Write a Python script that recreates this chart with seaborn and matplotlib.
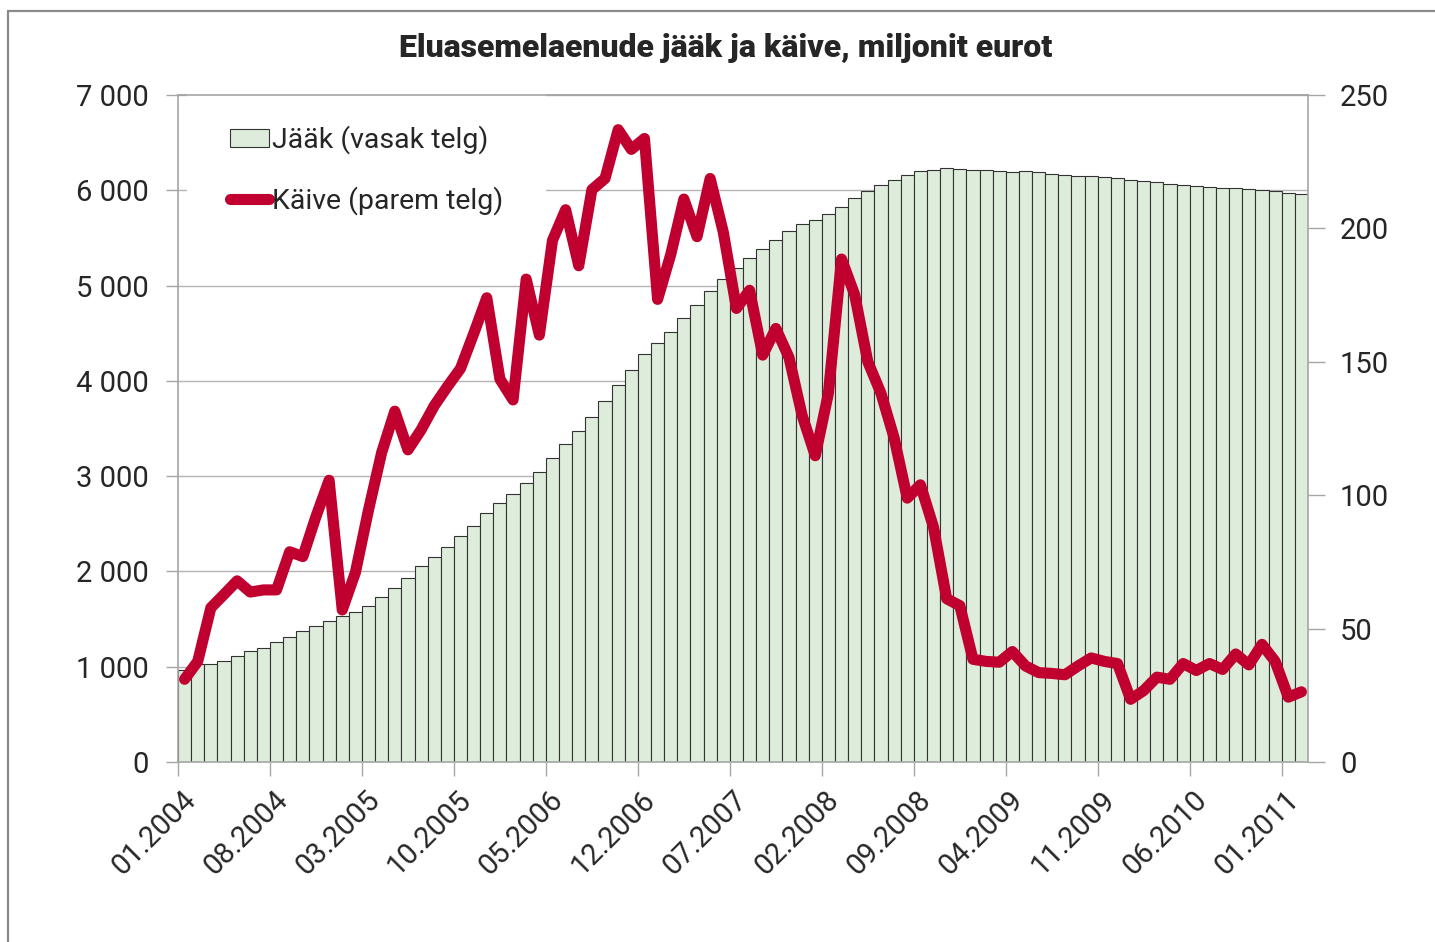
import matplotlib
matplotlib.use('Agg')

import matplotlib.pyplot as plt
from matplotlib.lines import Line2D
from matplotlib.patches import Patch
from matplotlib.ticker import FuncFormatter, MultipleLocator
import seaborn as sns
import pandas as pd
import numpy as np

# kuud 01.2004 ... 02.2011
MONTHS = pd.date_range('2004-01-01', periods=86, freq='MS').strftime('%m.%Y').tolist()

# Jääk, miljonit eurot (vasak telg)
JAAK = [970, 1028, 1030, 1065, 1115, 1162, 1200, 1256, 1313, 1374,
        1426, 1482, 1529, 1576, 1633, 1732, 1831, 1934, 2056, 2155,
        2259, 2367, 2480, 2612, 2715, 2814, 2932, 3045, 3186, 3341,
        3473, 3624, 3788, 3958, 4118, 4282, 4395, 4513, 4659, 4791,
        4941, 5073, 5186, 5285, 5379, 5482, 5571, 5642, 5689, 5755,
        5826, 5915, 5995, 6056, 6108, 6160, 6207, 6216, 6231, 6221,
        6212, 6212, 6202, 6193, 6198, 6188, 6174, 6165, 6155, 6151,
        6136, 6127, 6113, 6099, 6085, 6071, 6056, 6047, 6038, 6028,
        6028, 6014, 6005, 5991, 5976, 5958]

# Käive, miljonit eurot (parem telg)
KAIVE = [31.0, 37.7, 57.8, 62.8, 67.9, 63.7, 64.5, 64.5, 78.8, 77.0,
         92.0, 105.6, 57.0, 71.0, 94.5, 116.0, 131.5, 117.0, 124.5, 133.5,
         140.7, 147.5, 160.5, 174.0, 143.5, 135.7, 181.0, 160.0, 195.5, 207.0,
         186.0, 214.5, 218.7, 237.0, 229.6, 233.7, 173.4, 190.2, 211.0, 196.9,
         218.7, 198.6, 170.0, 176.8, 152.5, 162.5, 151.6, 129.9, 114.8, 138.2,
         188.5, 175.1, 150.0, 138.2, 121.5, 98.9, 103.9, 88.0, 61.2, 58.6,
         38.5, 37.7, 37.4, 41.4, 36.0, 33.5, 33.2, 32.7, 36.0, 39.0,
         37.7, 36.9, 23.5, 26.8, 31.8, 31.0, 36.9, 34.3, 36.9, 34.7,
         40.5, 36.4, 44.1, 37.7, 24.3, 26.3]

GREEN = '#deeddb'
EDGE = '#333333'
RED = '#c0002e'
GRID = '#b4b4b4'
AXIS = '#a6a6a6'

sns.set_theme(style='white')
plt.rcParams['font.family'] = ['Roboto', 'DejaVu Sans']

df = pd.DataFrame({'kuu': MONTHS, 'jaak': JAAK, 'kaive': KAIVE})
df['pos'] = np.arange(len(df))

fig = plt.figure(figsize=(14.35, 9.42), dpi=100)
ax = fig.add_axes([178 / 1435, 1 - 762 / 942, 1130 / 1435, 667 / 942])

sns.barplot(data=df, x='kuu', y='jaak', color=GREEN, saturation=1,
            edgecolor=EDGE, linewidth=0.8, width=1.0, ax=ax)
ax.set_xlim(-0.5, len(df) - 0.5)
ax.set_ylim(0, 7000)
ax.yaxis.set_major_locator(MultipleLocator(1000))
ax.yaxis.set_major_formatter(FuncFormatter(lambda v, p: f'{int(v):,}'.replace(',', ' ')))
ax.set_axisbelow(True)
ax.yaxis.grid(True, color=GRID, linewidth=1.0)
ax.xaxis.grid(False)
ax.set_xlabel('')
ax.set_ylabel('')

ax2 = ax.twinx()
sns.lineplot(data=df, x='pos', y='kaive', color=RED, linewidth=8,
             solid_capstyle='round', solid_joinstyle='round', ax=ax2)
ax2.set_ylim(0, 250)
ax2.yaxis.set_major_locator(MultipleLocator(50))
ax2.set_xlabel('')
ax2.set_ylabel('')
ax2.set_xlim(-0.5, len(df) - 0.5)

# x-telg: kriipsud kategooriate piiril, sildid veidi paremal
step = 7
major = np.arange(0, len(df), step)
ax.set_xticks(major - 0.5)
ax.set_xticklabels([])
ax.set_xticks(major + 0.5, minor=True)
ax.set_xticklabels([MONTHS[i] for i in major], minor=True, rotation=45,
                   ha='right', va='center', rotation_mode='anchor', fontsize=21)
ax.tick_params(axis='x', which='major', length=10, width=1, color=AXIS, direction='out', bottom=True)
ax.tick_params(axis='x', which='minor', length=0, pad=24, bottom=True)
ax.tick_params(axis='y', length=9, width=1, color=AXIS, direction='out', left=True,
               labelsize=21, pad=12)
ax2.tick_params(axis='y', length=12, width=1, color=AXIS, direction='out', right=True,
                labelsize=21, pad=11)

for name in ['left', 'bottom', 'top']:
    ax.spines[name].set_color(AXIS)
    ax.spines[name].set_linewidth(1.2)
ax.spines['right'].set_visible(False)
for name in ['left', 'bottom']:
    ax2.spines[name].set_visible(False)
for name in ['right', 'top']:
    ax2.spines[name].set_color(AXIS)
    ax2.spines[name].set_linewidth(1.2)

handles = [Patch(facecolor=GREEN, edgecolor=EDGE, linewidth=0.8),
           Line2D([], [], color=RED, linewidth=8, solid_capstyle='round')]
leg = ax2.legend(handles, ['Jääk (vasak telg)', 'Käive (parem telg)'],
                 loc='upper left', bbox_to_anchor=(0.008, 1.018), fontsize=20.5,
                 frameon=True, facecolor='white', edgecolor='none', framealpha=1,
                 fancybox=False, borderpad=1.5, handlelength=1.37, handleheight=0.62,
                 handletextpad=0.12, labelspacing=1.12, borderaxespad=0)
leg.set_zorder(1)

fig.text(0.5056, 1 - 48 / 942, 'Eluasemelaenude jääk ja käive, miljonit eurot',
         ha='center', va='center', fontsize=23, fontweight='heavy')

# diagrammi raam (vasak ja ülemine serv)
fig.add_artist(Line2D([8 / 1435, 8 / 1435], [0, 1 - 11 / 942], color='#8a8a8a', linewidth=1.6))
fig.add_artist(Line2D([8 / 1435, 1], [1 - 11 / 942, 1 - 11 / 942], color='#8a8a8a', linewidth=1.6))

fig.savefig('out.png', dpi=100)
